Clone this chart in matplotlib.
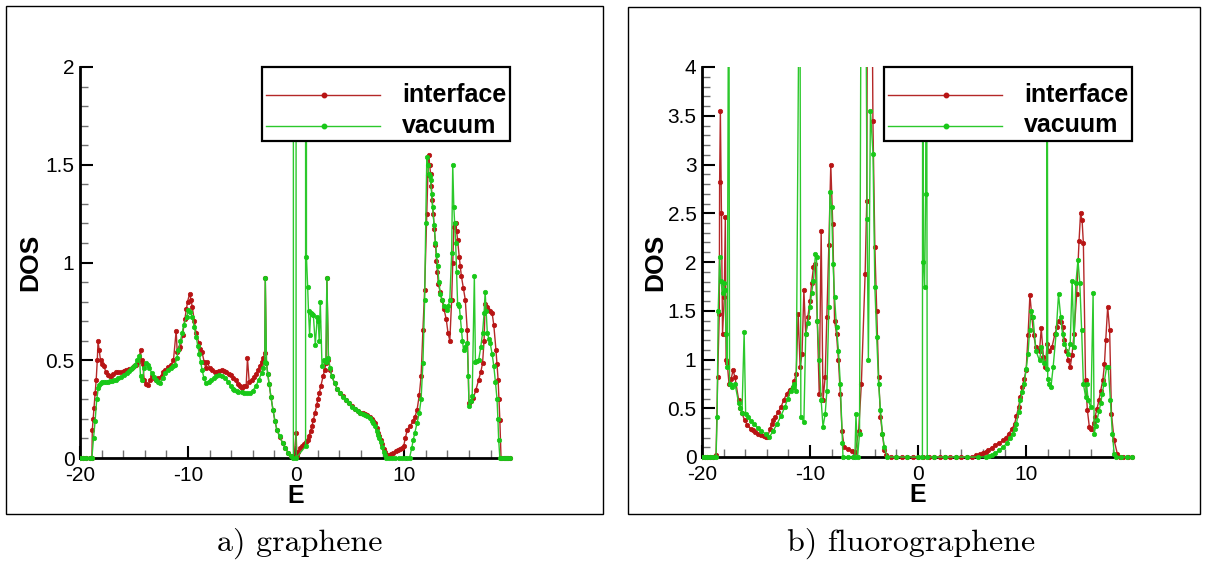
import matplotlib
matplotlib.use('Agg')
import matplotlib.pyplot as plt
from matplotlib.patches import Rectangle
from matplotlib.lines import Line2D
from matplotlib.ticker import FixedLocator, MultipleLocator, FixedFormatter

plt.rcParams['font.family'] = ['Liberation Sans', 'DejaVu Sans']

# ---------------- data: a) graphene ----------------
E_g_interface = [-20, -19.7, -19.4, -19.1, -18.9, -18.86, -18.78, -18.7, -18.6, -18.5, -18.4, -18.33,
                 -18.22, -18.1, -17.95, -17.8, -17.6, -17.4, -17.25, -17.1, -16.9, -16.7, -16.45, -16.2,
                 -15.95, -15.7, -15.45, -15.2, -15.0, -14.8, -14.6, -14.4, -14.3, -14.2, -14.05, -13.9,
                 -13.7, -13.5, -13.3, -13.15, -13.0, -12.75, -12.45, -12.3, -12.1, -11.85, -11.6, -11.35,
                 -11.1, -11.0, -10.85, -10.7, -10.5, -10.3, -10.15, -10.04, -9.86, -9.72, -9.6, -9.42,
                 -9.25, -9.0, -8.85, -8.7, -8.5, -8.36, -8.2, -8.0, -7.8, -7.55, -7.3, -7.1, -6.9, -6.7,
                 -6.5, -6.25, -6.05, -5.8, -5.6, -5.4, -5.2, -5.0, -4.8, -4.62, -4.5, -4.34, -4.1, -3.9,
                 -3.7, -3.5, -3.35, -3.2, -3.05, -2.9, -2.85, -2.74, -2.62, -2.5, -2.32, -2.14, -1.96,
                 -1.78, -1.5, -1.25, -1.0, -0.71, -0.45, -0.18, 0.0, 0.08, 0.2, 0.36, 0.55, 0.7, 0.9,
                 1.07, 1.2, 1.35, 1.48, 1.6, 1.75, 1.9, 2.02, 2.14, 2.3, 2.5, 2.65, 2.78, 2.85, 3.0,
                 3.15, 3.3, 3.56, 3.8, 4.1, 4.35, 4.63, 4.9, 5.2, 5.45, 5.7, 5.95, 6.2, 6.4, 6.6, 6.8,
                 7.0, 7.15, 7.3, 7.45, 7.6, 7.72, 7.83, 7.97, 8.1, 8.2, 8.3, 8.54, 8.8, 9.0, 9.25, 9.45,
                 9.6, 9.8, 9.96, 10.1, 10.3, 10.55, 10.85, 11.0, 11.2, 11.4, 11.57, 11.74, 11.9, 12.1,
                 12.2, 12.28, 12.36, 12.45, 12.52, 12.6, 12.7, 12.8, 12.9, 12.99, 13.08, 13.17, 13.33,
                 13.5, 13.7, 13.9, 14.06, 14.23, 14.4, 14.5, 14.6, 14.68, 14.77, 14.86, 14.95, 15.1,
                 15.2, 15.3, 15.48, 15.66, 15.84, 16.0, 16.2, 16.4, 16.65, 16.9, 17.1, 17.26, 17.4,
                 17.5, 17.65, 17.8, 17.98, 18.15, 18.3, 18.5, 18.6, 18.7, 18.78, 18.86, 18.97, 19.2,
                 19.4, 19.6, 19.8]
DOS_g_interface = [0, 0, 0, 0, 0, 0.145, 0.2, 0.255, 0.33, 0.40, 0.5, 0.596,
                   0.55, 0.50, 0.48, 0.47, 0.44, 0.425, 0.42, 0.42, 0.43, 0.44, 0.44, 0.44,
                   0.445, 0.45, 0.455, 0.46, 0.47, 0.477, 0.49, 0.55, 0.50, 0.48, 0.40, 0.38,
                   0.375, 0.40, 0.42, 0.41, 0.40, 0.41, 0.42, 0.44, 0.45, 0.465, 0.477, 0.50,
                   0.65, 0.54, 0.555, 0.57, 0.63, 0.71, 0.76, 0.80, 0.84, 0.81, 0.77, 0.70,
                   0.64, 0.59, 0.56, 0.54, 0.49, 0.46, 0.49, 0.46, 0.45, 0.44, 0.44, 0.445, 0.45, 0.445,
                   0.44, 0.43, 0.425, 0.41, 0.40, 0.38, 0.366, 0.36, 0.366, 0.37, 0.51, 0.39, 0.40, 0.415,
                   0.43, 0.45, 0.47, 0.49, 0.51, 0.536, 0.92, 0.485, 0.43, 0.38, 0.31, 0.247, 0.19,
                   0.145, 0.105, 0.077, 0.05, 0.026, 0.012, 0.005, 0.13, 0.01, 0.03, 0.05, 0.06, 0.07, 0.08,
                   0.094, 0.115, 0.14, 0.165, 0.196, 0.23, 0.27, 0.30, 0.33, 0.37, 0.417, 0.45, 0.485, 0.92, 0.50,
                   0.45, 0.42, 0.383, 0.355, 0.33, 0.315, 0.298, 0.28, 0.265, 0.25, 0.238, 0.232, 0.228, 0.224, 0.22, 0.21,
                   0.20, 0.19, 0.18, 0.155, 0.13, 0.11, 0.094, 0.07, 0.045, 0.03, 0.015, 0.017, 0.02, 0.025, 0.034, 0.04,
                   0.045, 0.05, 0.06, 0.10, 0.145, 0.165, 0.187, 0.21, 0.247, 0.32, 0.417, 0.655, 0.86, 1.25,
                   1.45, 1.55, 1.50, 1.455, 1.39, 1.32, 1.25, 1.17, 1.09, 1.01, 0.95, 0.89, 0.85,
                   0.81, 0.76, 0.71, 0.64, 0.60, 0.81, 1.0, 1.18, 1.20, 1.20, 1.16, 1.115, 1.03,
                   0.98, 0.93, 0.87, 0.81, 0.655, 0.28, 0.29, 0.306, 0.35, 0.40, 0.44, 0.485, 0.60,
                   0.79, 0.77, 0.757, 0.75, 0.74, 0.68, 0.553, 0.48, 0.40, 0.30, 0.196, 0.0, 0,
                   0, 0, 0]

E_g_vacuum = [-20, -19.7, -19.4, -19.1, -18.9, -18.75, -18.6, -18.45, -18.3, -18.2, -18.1, -17.95,
              -17.8, -17.6, -17.4, -17.2, -17.0, -16.85, -16.7, -16.45, -16.2, -15.95, -15.66, -15.5,
              -15.3, -15.1, -14.95, -14.7, -14.5, -14.4, -14.23, -14.05, -13.9, -13.75, -13.6, -13.35,
              -13.15, -13.0, -12.8, -12.6, -12.35, -12.1, -11.85, -11.6, -11.4, -11.2, -11.05, -10.9,
              -10.7, -10.55, -10.4, -10.14, -9.96, -9.78, -9.6, -9.42, -9.25, -9.1, -8.95, -8.82,
              -8.7, -8.53, -8.36, -8.1, -7.83, -7.6, -7.4, -7.1, -6.85, -6.6, -6.3, -6.05, -5.85,
              -5.7, -5.5, -5.34, -5.05, -4.8, -4.55, -4.27, -4.0, -3.74, -3.45, -3.2, -3.05, -2.9,
              -2.85, -2.74, -2.62, -2.5, -2.32, -2.14, -1.96, -1.78, -1.5, -1.25, -1.0, -0.71, -0.45,
              -0.25, -0.24, -0.01, 0.0, 0.88, 0.9, 0.96, 1.07, 1.15, 1.25, 1.35, 1.48, 1.6, 1.78,
              1.96, 2.05, 2.14, 2.24, 2.4, 2.6, 2.75, 2.85, 3.0, 3.15, 3.3, 3.56, 3.8, 4.1, 4.35,
              4.63, 4.9, 5.2, 5.45, 5.7, 5.95, 6.2, 6.4, 6.6, 6.8, 7.0, 7.15, 7.3, 7.45, 7.6, 7.72,
              7.83, 7.97, 8.1, 8.2, 8.3, 8.6, 8.9, 9.2, 9.5, 9.8, 10.1, 10.3, 10.5, 10.7, 10.85,
              11.0, 11.2, 11.4, 11.57, 11.74, 11.9, 12.0, 12.1, 12.2, 12.28, 12.37, 12.45, 12.55,
              12.63, 12.77, 12.9, 13.0, 13.1, 13.22, 13.35, 13.5, 13.7, 13.95, 14.1, 14.23, 14.4,
              14.5, 14.6, 14.68, 14.77, 14.86, 14.95, 15.1, 15.2, 15.3, 15.4, 15.5, 15.66, 15.84,
              15.95, 16.0, 16.15, 16.3, 16.5, 16.6, 16.75, 16.9, 17.1, 17.26, 17.4, 17.5, 17.6,
              17.7, 17.84, 17.97, 18.15, 18.3, 18.45, 18.6, 18.68, 18.75, 18.86, 19.1, 19.3, 19.5,
              19.8]
DOS_g_vacuum = [0, 0, 0, 0, 0, 0.1, 0.19, 0.3, 0.36, 0.375, 0.383, 0.387,
                0.39, 0.39, 0.39, 0.392, 0.395, 0.398, 0.40, 0.407, 0.415, 0.425, 0.434, 0.445,
                0.455, 0.466, 0.477, 0.50, 0.52, 0.417, 0.40, 0.46, 0.485, 0.475, 0.46, 0.434,
                0.415, 0.40, 0.39, 0.383, 0.41, 0.434, 0.45, 0.46, 0.47, 0.477, 0.51, 0.55,
                0.60, 0.64, 0.68, 0.72, 0.757, 0.745, 0.72, 0.67, 0.62, 0.575, 0.53, 0.49,
                0.45, 0.41, 0.383, 0.39, 0.40, 0.41, 0.42, 0.425, 0.42, 0.41, 0.39, 0.366, 0.355,
                0.35, 0.345, 0.34, 0.336, 0.334, 0.333, 0.332, 0.345, 0.366, 0.40, 0.434, 0.46, 0.49,
                0.92, 0.485, 0.43, 0.38, 0.31, 0.247, 0.19, 0.145, 0.11, 0.077, 0.05, 0.026, 0.01,
                0.0, 40, 40, 0.0, 0.06, 40, 1.03, 0.877, 0.75, 0.63, 0.74, 0.735, 0.73, 0.58,
                0.72, 0.70, 0.60, 0.80, 0.47, 0.50, 0.49, 0.92, 0.51, 0.46, 0.42, 0.383, 0.355, 0.33, 0.313,
                0.298, 0.28, 0.262, 0.25, 0.238, 0.23, 0.225, 0.22, 0.215, 0.205, 0.19, 0.18, 0.165, 0.14, 0.12, 0.10,
                0.08, 0.055, 0.03, 0.015, 0.0, 0, 0, 0, 0, 0, 0, 0, 0.0, 0.05, 0.094,
                0.13, 0.18, 0.23, 0.30, 0.485, 0.81, 1.2, 1.54, 1.50, 1.455, 1.44, 1.42, 1.35,
                1.285, 1.19, 1.10, 1.04, 0.98, 0.90, 0.84, 0.81, 0.78, 0.757, 0.78, 0.81, 1.05,
                1.50, 1.285, 1.20, 1.10, 0.95, 0.79, 0.78, 0.72, 0.655, 0.60, 0.553, 0.57, 0.59,
                0.42, 0.264, 0.29, 0.315, 0.93, 0.49, 0.495, 0.50, 0.57, 0.64, 0.74, 0.85, 0.75,
                0.64, 0.61, 0.587, 0.53, 0.47, 0.39, 0.30, 0.20, 0.094, 0.0, 0, 0, 0,
                0]

# ---------------- data: b) fluorographene ----------------
E_f_interface = [-20, -19.75, -19.5, -19.25, -19.0, -18.7, -18.55, -18.4, -18.37, -18.3, -18.2, -18.1,
                 -17.94, -17.84, -17.77, -17.66, -17.5, -17.3, -17.13, -16.95, -16.6, -16.45, -16.3,
                 -16.06, -15.8, -15.5, -15.3, -15.1, -14.8, -14.55, -14.3, -14.1, -13.94, -13.7, -13.55,
                 -13.4, -13.2, -12.95, -12.7, -12.45, -12.16, -11.9, -11.6, -11.45, -11.28, -11.1, -10.92,
                 -10.74, -10.57, -10.4, -10.2, -10.0, -9.86, -9.68, -9.5, -9.33, -9.15, -8.97, -8.8, -8.6,
                 -8.44, -8.26, -8.08, -7.9, -7.73, -7.55, -7.37, -7.2, -7.04, -6.84, -6.5, -6.1, -5.8,
                 -5.5, -5.25, -4.9, -4.75, -4.66, -4.32, -4.18, -4.0, -3.83, -3.65, -3.48, -3.3, -3.12,
                 -2.94, -2.5, -2.0, -1.5, -1.0, -0.5, 0.0, 0.5, 1.0, 1.5, 2.0, 2.5, 3.0, 3.5, 4.0, 4.5,
                 5.0, 5.4, 5.7, 6.0, 6.25, 6.45, 6.8, 7.16, 7.5, 7.87, 8.15, 8.4, 8.7, 8.94, 9.1, 9.3,
                 9.47, 9.64, 9.82, 10.0, 10.18, 10.35, 10.53, 10.7, 10.9, 11.24, 11.4, 11.6, 11.77,
                 11.95, 12.13, 12.4, 12.66, 12.85, 13.0, 13.2, 13.37, 13.55, 13.72, 13.9, 14.08, 14.25,
                 14.43, 14.68, 14.9, 15.04, 15.18, 15.3, 15.5, 15.67, 15.85, 16.0, 16.1, 16.25, 16.38,
                 16.55, 16.74, 16.9, 17.1, 17.25, 17.37, 17.55, 17.73, 17.9, 18.15, 18.44, 18.7, 19.0,
                 19.4, 19.8]
DOS_f_interface = [0, 0, 0, 0, 0, 0.017, 0.82, 1.47, 2.82, 3.55, 2.5, 1.26,
                   1.64, 2.46, 0.99, 0.96, 0.75, 0.80, 0.89, 0.82, 0.58, 0.50, 0.45,
                   0.376, 0.33, 0.29, 0.275, 0.26, 0.24, 0.23, 0.22, 0.21, 0.205, 0.29, 0.34,
                   0.376, 0.41, 0.46, 0.51, 0.58, 0.65, 0.69, 0.72, 0.78, 0.855, 1.47, 0.92,
                   1.06, 1.71, 1.26, 1.44, 1.60, 1.78, 1.95, 1.98, 1.40, 0.65, 2.32, 0.58, 0.82,
                   1.44, 2.17, 3.0, 2.39, 1.40, 1.26, 0.99, 0.65, 0.27, 0.10, 0.08, 0.06, 0.05,
                   0.27, 0.75, 1.88, 2.63, 6.0, 6.0, 3.45, 2.15, 1.5, 0.82, 0.41, 0.24, 0.07,
                   0.017, 0, 0, 0, 0, 0, 0, 0, 0, 0, 0, 0, 0, 0, 0, 0,
                   0, 0.017, 0.03, 0.04, 0.055, 0.07, 0.095, 0.12, 0.145, 0.17, 0.20, 0.24, 0.29, 0.34, 0.42, 0.51,
                   0.62, 0.72, 0.80, 0.89, 1.25, 1.66, 1.44, 1.25, 1.13, 1.09, 1.32, 1.03, 0.92,
                   1.16, 1.09, 1.13, 1.26, 1.33, 1.40, 1.38, 1.33, 1.20, 1.09, 1.0, 0.92, 1.05,
                   1.26, 1.67, 2.22, 2.5, 2.43, 2.19, 0.79, 0.48, 0.31, 0.29, 0.29, 0.35, 0.41,
                   0.49, 0.58, 0.68, 0.79, 0.95, 1.2, 1.54, 1.3, 0.44, 0.17, 0.034, 0, 0,
                   0, 0]

E_f_vacuum = [-20, -19.75, -19.5, -19.25, -19.0, -18.7, -18.6, -18.5, -18.37, -18.26, -18.1, -18.0,
              -17.9, -17.77, -17.66, -17.52, -17.45, -17.38, -17.2, -16.95, -16.6, -16.45, -16.3,
              -16.1, -15.96, -15.7, -15.45, -15.2, -14.85, -14.5, -14.1, -13.76, -13.4, -13.05,
              -12.7, -12.34, -12.05, -11.8, -11.6, -11.45, -11.28, -10.95, -10.85, -10.57, -10.4,
              -10.2, -10.0, -9.86, -9.68, -9.5, -9.4, -9.33, -9.15, -8.97, -8.8, -8.6, -8.44, -8.26,
              -8.16, -8.0, -7.87, -7.73, -7.55, -7.37, -7.2, -7.0, -6.95, -6.5, -6.0, -5.85, -5.75,
              -5.6, -5.42, -5.25, -4.88, -4.72, -4.6, -4.41, -4.17, -4.0, -3.83, -3.65, -3.48, -3.3,
              -3.12, -2.84, -2.0, -1.0, 0.0, 0.4, 0.43, 0.5, 0.6, 0.7, 0.78, 0.85, 1.5, 2.5, 3.5,
              4.5, 5.5, 6.28, 6.55, 6.8, 7.15, 7.5, 7.85, 8.2, 8.5, 8.76, 8.95, 9.1, 9.3, 9.47,
              9.65, 9.82, 10.0, 10.18, 10.32, 10.46, 10.64, 10.9, 11.24, 11.42, 11.7, 11.9, 11.95,
              12.0, 12.13, 12.3, 12.5, 12.77, 13.0, 13.2, 13.37, 13.55, 13.9, 14.08, 14.26, 14.43,
              14.6, 14.8, 14.97, 15.14, 15.3, 15.5, 15.6, 15.74, 16.0, 16.2, 16.3, 16.45, 16.56,
              16.75, 16.9, 17.05, 17.2, 17.45, 17.6, 17.8, 17.98, 18.15, 18.3, 18.8, 19.3, 19.8]
DOS_f_vacuum = [0, 0, 0, 0, 0, 0.0, 0.41, 1.5, 2.05, 1.81, 1.68, 1.78,
                1.71, 1.26, 0.92, 6.0, 0.75, 0.75, 0.72, 0.75, 0.55, 0.50, 0.45,
                1.28, 0.44, 0.41, 0.37, 0.34, 0.30, 0.27, 0.235, 0.205, 0.27, 0.34,
                0.42, 0.51, 0.60, 0.68, 0.72, 0.75, 0.68, 6.0, 0.41, 0.36, 1.26,
                1.37, 1.54, 1.68, 1.81, 2.08, 2.05, 1.40, 0.99, 0.58, 0.31, 0.44, 0.68, 1.54,
                2.72, 2.56, 1.98, 1.64, 1.33, 1.09, 0.75, 0.14, 0.0, 0, 0, 0.0, 0.44,
                0.0, 0.24, 6.0, 6.0, 2.44, 1.0, 3.55, 3.11, 1.74, 1.23, 0.75, 0.48, 0.24,
                0.10, 0.0, 0, 0, 0, 0.0, 6.0, 2.0, 1.74, 2.7, 6.0, 0.0, 0, 0, 0,
                0, 0, 0.0, 0.01, 0.017, 0.04, 0.07, 0.10, 0.14, 0.19, 0.24, 0.29, 0.34, 0.46, 0.58,
                0.67, 0.75, 0.90, 1.06, 1.30, 1.50, 1.44, 1.09, 0.99, 1.13, 0.96, 0.90, 6.0,
                0.80, 0.75, 0.72, 0.92, 1.26, 1.67, 1.44, 1.26, 1.16, 1.06, 1.16, 1.81, 1.13,
                1.78, 2.02, 1.78, 1.30, 0.75, 0.62, 0.75, 0.58, 0.51, 1.68, 0.24, 0.32, 0.38,
                0.47, 0.55, 0.65, 0.75, 0.92, 0.92, 0.58, 0.24, 0.034, 0, 0, 0, 0]

series_labels = ['interface', 'vacuum']
xtick_values = [-20, -10, 0, 10]
xtick_labels = ['-20', '-10', '0', '10']
ytick_g = [0, 0.5, 1, 1.5, 2]
ytick_g_labels = ['0', '0.5', '1', '1.5', '2']
ytick_f = [0, 0.5, 1, 1.5, 2, 2.5, 3, 3.5, 4]
ytick_f_labels = ['0', '0.5', '1', '1.5', '2', '2.5', '3', '3.5', '4']
captions = ['a) graphene', 'b) fluorographene']

RED_LINE = '#b42828'
RED_MK = '#b81414'
GREEN_LINE = '#2cc82c'
GREEN_MK = '#18c818'

W, H = 1208, 562
fig = plt.figure(figsize=(W / 100, H / 100), dpi=100)
fig.patch.set_facecolor('white')

ax1 = fig.add_axes([80 / W, (H - 458) / H, 430 / W, 391 / H])
ax2 = fig.add_axes([702 / W, (H - 457) / H, 430 / W, 390 / H])


def style_axes(ax, ymax, yticks, ylabels):
    ax.set_xlim(-20, 19.8)
    ax.set_ylim(0, ymax)
    for s in ['top', 'right']:
        ax.spines[s].set_visible(False)
    for s in ['left', 'bottom']:
        ax.spines[s].set_linewidth(2.0)
        ax.spines[s].set_color('black')
    ax.xaxis.set_major_locator(FixedLocator(xtick_values))
    ax.xaxis.set_major_formatter(FixedFormatter(xtick_labels))
    ax.xaxis.set_minor_locator(MultipleLocator(2))
    ax.yaxis.set_major_locator(FixedLocator(yticks))
    ax.yaxis.set_major_formatter(FixedFormatter(ylabels))
    ax.yaxis.set_minor_locator(MultipleLocator(0.1))
    ax.tick_params(which='major', direction='in', length=9, width=1.5, color='black',
                   labelsize=15, pad=4, top=False, right=False)
    ax.tick_params(axis='x', which='major', pad=6)
    ax.tick_params(which='minor', direction='in', length=6, width=1.0, color='#707070',
                   top=False, right=False)
    ax.set_xlabel('E', fontsize=18, fontweight='bold')
    ax.set_ylabel('DOS', fontsize=19, fontweight='bold')
    ax.xaxis.set_label_coords(0.502, -0.097)
    ax.xaxis.label.set_va('center')
    ax.yaxis.label.set_va('center')
    ax.yaxis.label.set_ha('center')


def plot_series(ax, E, D, lc, mc, z):
    ln, = ax.plot(E, D, color=lc, lw=1.0, marker='o', ms=3.2, mfc=mc, mec=mc, mew=0.5, zorder=z)
    clip = Rectangle((0, -0.02), 1.02, 1.02, transform=ax.transAxes)
    ln.set_clip_path(clip)
    return ln


def draw_legend(ax):
    ax.add_patch(Rectangle((0.423, 0.81), 0.577, 0.19, transform=ax.transAxes, facecolor='white',
                           edgecolor='black', lw=1.6, zorder=10, clip_on=False))
    rows = [(0.928, RED_LINE, RED_MK, series_labels[0]), (0.850, GREEN_LINE, GREEN_MK, series_labels[1])]
    for y, lc, mc, lab in rows:
        ax.add_line(Line2D([0.433, 0.698], [y, y], transform=ax.transAxes, color=lc, lw=1.0,
                           zorder=11, clip_on=False))
        ax.add_line(Line2D([0.567], [y], transform=ax.transAxes, color=mc, marker='o', ms=3.2,
                           zorder=12, clip_on=False, ls='none'))
        ax.text(0.749, y, lab, transform=ax.transAxes, fontsize=18, fontweight='bold',
                va='center', ha='left', zorder=12)


style_axes(ax1, 2, ytick_g, ytick_g_labels)
style_axes(ax2, 4, ytick_f, ytick_f_labels)
ax1.yaxis.set_label_coords(-0.116, 0.5)
ax2.yaxis.set_label_coords(-0.109, 0.5)

plot_series(ax1, E_g_interface, DOS_g_interface, RED_LINE, RED_MK, 3)
plot_series(ax1, E_g_vacuum, DOS_g_vacuum, GREEN_LINE, GREEN_MK, 4)
plot_series(ax2, E_f_interface, DOS_f_interface, RED_LINE, RED_MK, 3)
plot_series(ax2, E_f_vacuum, DOS_f_vacuum, GREEN_LINE, GREEN_MK, 4)

draw_legend(ax1)
draw_legend(ax2)

# panel frames
fig.add_artist(Rectangle((6 / W, (H - 514) / H), 597 / W, 508 / H, transform=fig.transFigure,
                         fill=False, edgecolor='black', lw=1.0))
fig.add_artist(Rectangle((628 / W, (H - 514) / H), 572 / W, 507 / H, transform=fig.transFigure,
                         fill=False, edgecolor='black', lw=1.0))

fig.text(300 / W, (H - 543) / H, captions[0], fontsize=23, family='cmr10', ha='center', va='center')
fig.text(911 / W, (H - 543) / H, captions[1], fontsize=23, family='cmr10', ha='center', va='center')

fig.savefig('out.png', dpi=100, facecolor='white')
